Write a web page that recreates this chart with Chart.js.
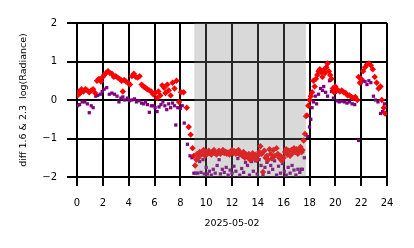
<!DOCTYPE html>
<html><head><meta charset="utf-8">
<script src="https://cdn.jsdelivr.net/npm/chart.js@4"></script>
<style>html,body{margin:0;padding:0;background:#fff}#w{width:414px;height:248px}</style>
</head><body><div id="w"><canvas id="c"></canvas></div>
<script>
const xTicks = [0,2,4,6,8,10,12,14,16,18,20,22,24];
const yTicks = [-2,-1,0,1,2];
const bandStart = 9.08, bandEnd = 17.72;
const xTitle = "2025-05-02";
const yTitle = "diff 1.6 & 2.3  log(Radiance)";

const redHours = [0.05,0.15,0.25,0.35,0.5,0.65,0.8,0.95,1.1,1.25,1.4,1.55,1.7,1.85,2.0,2.1,2.25,2.4,2.55,2.7,2.85,3.0,3.15,3.3,3.45,3.55,3.65,3.8,3.95,4.1,4.25,4.4,4.55,4.7,4.85,5.0,5.15,5.3,5.45,5.6,5.75,5.9,6.05,6.2,6.3,6.45,6.6,6.75,6.85,7.0,7.1,7.25,7.4,7.55,7.7,7.9,8.05,8.25,8.5,8.65,8.8,8.95,9.05,9.15,9.25,
9.3,9.4,9.5,9.6,9.7,9.8,9.9,10.0,10.1,10.2,10.3,10.4,10.5,10.6,10.7,10.8,10.9,11.0,11.1,11.2,11.3,11.4,11.5,11.6,11.7,11.8,11.9,12.0,12.1,12.2,12.3,12.4,12.5,12.6,12.7,12.8,12.9,13.0,13.1,13.2,13.3,13.4,13.5,13.6,13.7,13.8,13.9,14.0,14.1,14.2,14.3,14.4,14.5,14.6,14.7,14.8,14.9,15.0,15.1,15.2,15.3,15.45,15.55,15.65,15.75,15.85,16.0,16.1,16.2,16.3,16.4,16.5,16.6,16.7,16.8,16.9,17.0,17.1,17.2,17.3,17.4,
17.45,17.55,17.65,17.72,17.8,17.9,18.0,18.1,18.2,18.3,18.4,18.5,18.6,18.7,18.8,18.9,19.0,19.1,19.2,19.3,19.4,19.5,19.6,19.7,19.8,19.9,20.0,20.1,20.2,20.35,20.5,20.65,20.8,20.95,21.1,21.25,21.4,21.55,21.7,21.8,21.9,22.0,22.15,22.3,22.45,22.6,22.75,22.9,23.05,23.2,23.35,23.5,23.6,23.75,23.85];
const redValues = [0.12,0.22,0.18,0.28,0.22,0.28,0.25,0.2,0.25,0.28,0.18,0.5,0.55,0.48,0.6,0.65,0.7,0.75,0.7,0.68,0.6,0.62,0.58,0.55,0.5,0.22,0.52,0.48,0.45,0.4,0.62,0.68,0.6,0.58,0.62,0.4,0.35,0.32,0.28,0.25,0.22,0.15,0.18,0.05,0.22,0.12,0.38,0.32,0.18,0.4,0.25,0.12,0.45,0.3,0.5,-0.05,0.2,0.2,-0.2,-0.7,-0.9,-1.25,-1.45,-1.7,-1.55,
-1.4,-1.5,-1.35,-1.42,-1.38,-1.3,-1.45,-1.35,-1.4,-1.32,-1.38,-1.42,-1.35,-1.3,-1.38,-1.42,-1.36,-1.32,-1.4,-1.35,-1.3,-1.38,-1.34,-1.4,-1.36,-1.42,-1.35,-1.3,-1.38,-1.33,-1.4,-1.36,-1.3,-1.42,-1.38,-1.45,-1.35,-1.5,-1.42,-1.48,-1.4,-1.55,-1.45,-1.38,-1.5,-1.42,-1.55,-1.45,-1.35,-1.2,-1.4,-1.87,-1.32,-1.5,-1.45,-1.55,-1.28,-1.4,-1.52,-1.3,-1.45,-1.25,-1.4,-1.5,-1.45,-1.58,-1.5,-1.35,-1.28,-1.42,-1.32,-1.45,-1.3,-1.38,-1.25,-1.35,-1.28,-1.4,-1.3,-1.22,-1.35,
-1.3,-1.05,-0.88,-0.42,-0.4,-0.15,0.0,0.1,0.2,0.5,0.35,0.55,0.65,0.75,0.8,0.72,0.6,0.78,0.7,0.85,0.95,0.75,0.65,0.55,0.3,0.2,0.35,0.28,0.25,0.22,0.25,0.2,0.18,0.12,0.12,0.08,0.05,0.08,0.0,0.6,0.45,0.55,0.75,0.85,0.92,0.95,0.9,0.8,0.6,0.45,0.3,0.35,0.0,-0.2,-0.35];

const purpleHours = [0.05,0.2,0.4,0.6,0.8,0.95,1.1,1.25,1.45,1.6,1.8,1.95,2.1,2.3,2.5,2.7,2.9,3.1,3.25,3.4,3.55,3.7,3.9,4.05,4.25,4.45,4.6,4.8,5.0,5.15,5.3,5.45,5.6,5.75,5.9,6.05,6.2,6.35,6.5,6.65,6.8,6.95,7.1,7.25,7.4,7.55,7.65,7.8,8.0,8.15,8.3,8.55,8.75,8.9,9.05,9.2,
9.35,9.5,9.6,9.75,9.85,10.0,10.1,10.25,10.4,10.55,10.7,10.85,11.0,11.1,11.25,11.4,11.55,11.7,11.85,12.0,12.15,12.3,12.45,12.6,12.75,12.9,13.05,13.2,13.35,13.5,13.65,13.8,13.95,14.1,14.25,14.4,14.55,14.7,14.85,15.0,15.15,15.3,15.45,15.6,15.75,15.9,16.05,16.2,16.35,16.5,16.65,16.8,16.95,17.1,17.25,17.35,
17.45,17.6,17.85,18.0,18.1,18.2,18.3,18.45,18.55,18.7,18.85,19.0,19.1,19.25,19.4,19.55,19.7,19.85,20.0,20.15,20.3,20.5,20.7,20.9,21.1,21.3,21.5,21.8,22.0,22.15,22.3,22.45,22.6,22.75,22.95,23.1,23.3,23.5,23.65,23.8];
const purpleValues = [-0.15,-0.12,-0.05,-0.05,-0.1,-0.33,-0.15,-0.2,0.1,0.12,0.15,0.22,0.28,0.32,0.15,0.18,0.15,0.1,-0.05,0.05,0.08,0.0,0.05,-0.02,0.0,0.03,-0.05,-0.02,-0.08,-0.1,-0.05,-0.12,-0.32,-0.15,-0.15,-0.2,-0.3,-0.18,-0.12,-0.05,-0.15,-0.25,-0.1,-0.2,-0.08,-0.15,-0.65,-0.2,-0.22,-0.15,-0.6,-1.15,-1.45,-1.5,-1.9,-1.9,
-1.9,-1.6,-1.88,-1.55,-1.92,-1.75,-1.92,-1.85,-1.95,-1.8,-1.9,-1.7,-1.55,-1.92,-1.8,-1.88,-1.75,-1.95,-1.82,-1.9,-1.72,-1.85,-1.52,-1.95,-1.78,-1.88,-1.62,-1.7,-1.95,-1.6,-1.85,-1.58,-1.92,-1.55,-1.7,-1.95,-1.75,-1.62,-1.88,-1.7,-1.8,-1.58,-1.95,-1.72,-1.9,-1.65,-1.85,-1.95,-1.75,-1.9,-1.7,-1.82,-1.95,-1.8,-1.88,-1.8,
-1.8,-1.5,-0.95,-0.7,-0.5,-0.2,-0.05,0.1,-0.1,0.15,0.3,0.25,0.35,0.2,0.1,0.5,0.22,0.05,0.2,-0.02,-0.05,-0.03,-0.05,-0.08,-0.05,-0.1,-0.12,-1.05,0.45,0.5,0.48,0.4,0.5,0.45,0.1,0.0,-0.05,-0.35,-0.3,-0.1];

function pts(h, v){ return h.map((x,i)=>({x:x, y:v[i]})); }

const bandPlugin = {
  id:'band',
  afterDatasetsDraw(chart){
    const {ctx, chartArea, scales} = chart;
    const x0 = scales.x.getPixelForValue(bandStart), x1 = scales.x.getPixelForValue(bandEnd);
    ctx.save();
    ctx.fillStyle = 'rgba(128,128,128,0.3)';
    ctx.fillRect(x0, chartArea.top, x1-x0, chartArea.bottom-chartArea.top);
    ctx.restore();
  }
};

const font = {family:'"DejaVu Sans", sans-serif', size:10};
new Chart(document.getElementById('c'), {
  type:'scatter',
  data:{datasets:[
    {data:pts(redHours, redValues), pointStyle:'rectRot', radius:3.2, backgroundColor:'#ff0000', borderWidth:0},
    {data:pts(purpleHours, purpleValues), pointStyle:'rect', radius:2.3, backgroundColor:'#800080', borderWidth:0}
  ]},
  options:{
    responsive:true, maintainAspectRatio:false, animation:false,
    events:[],
    layout:{padding:{top:23, right:27, left:0, bottom:0}},
    plugins:{legend:{display:false}, tooltip:{enabled:false}},
    scales:{
      x:{type:'linear', min:0, max:24, z:1,
        afterBuildTicks(s){ s.ticks = xTicks.map(v=>({value:v})); },
        afterFit(s){ s.height = 71; },
        grid:{color:'#000', lineWidth:2, tickLength:9, drawTicks:true},
        border:{display:false},
        ticks:{color:'#000', font:font, padding:11, maxRotation:0, autoSkip:false},
        title:{display:true, text:xTitle, color:'#000', font:{family:'"DejaVu Sans", sans-serif', size:9.5}, padding:{top:0, bottom:19}}
      },
      y:{type:'linear', min:-2, max:2, z:1,
        afterBuildTicks(s){ s.ticks = yTicks.map(v=>({value:v})); },
        afterFit(s){ s.width = 77; },
        grid:{color:'#000', lineWidth:2, tickLength:10, drawTicks:true},
        border:{display:false},
        ticks:{color:'#000', font:font, padding:10,
          callback:(v)=> v<0 ? '\u2212'+Math.abs(v) : String(v)},
        title:{display:true, text:yTitle, color:'#000', font:{family:'"DejaVu Sans", sans-serif', size:9.5}, padding:{top:18, bottom:0}}
      }
    }
  },
  plugins:[bandPlugin]
});
</script></body></html>
